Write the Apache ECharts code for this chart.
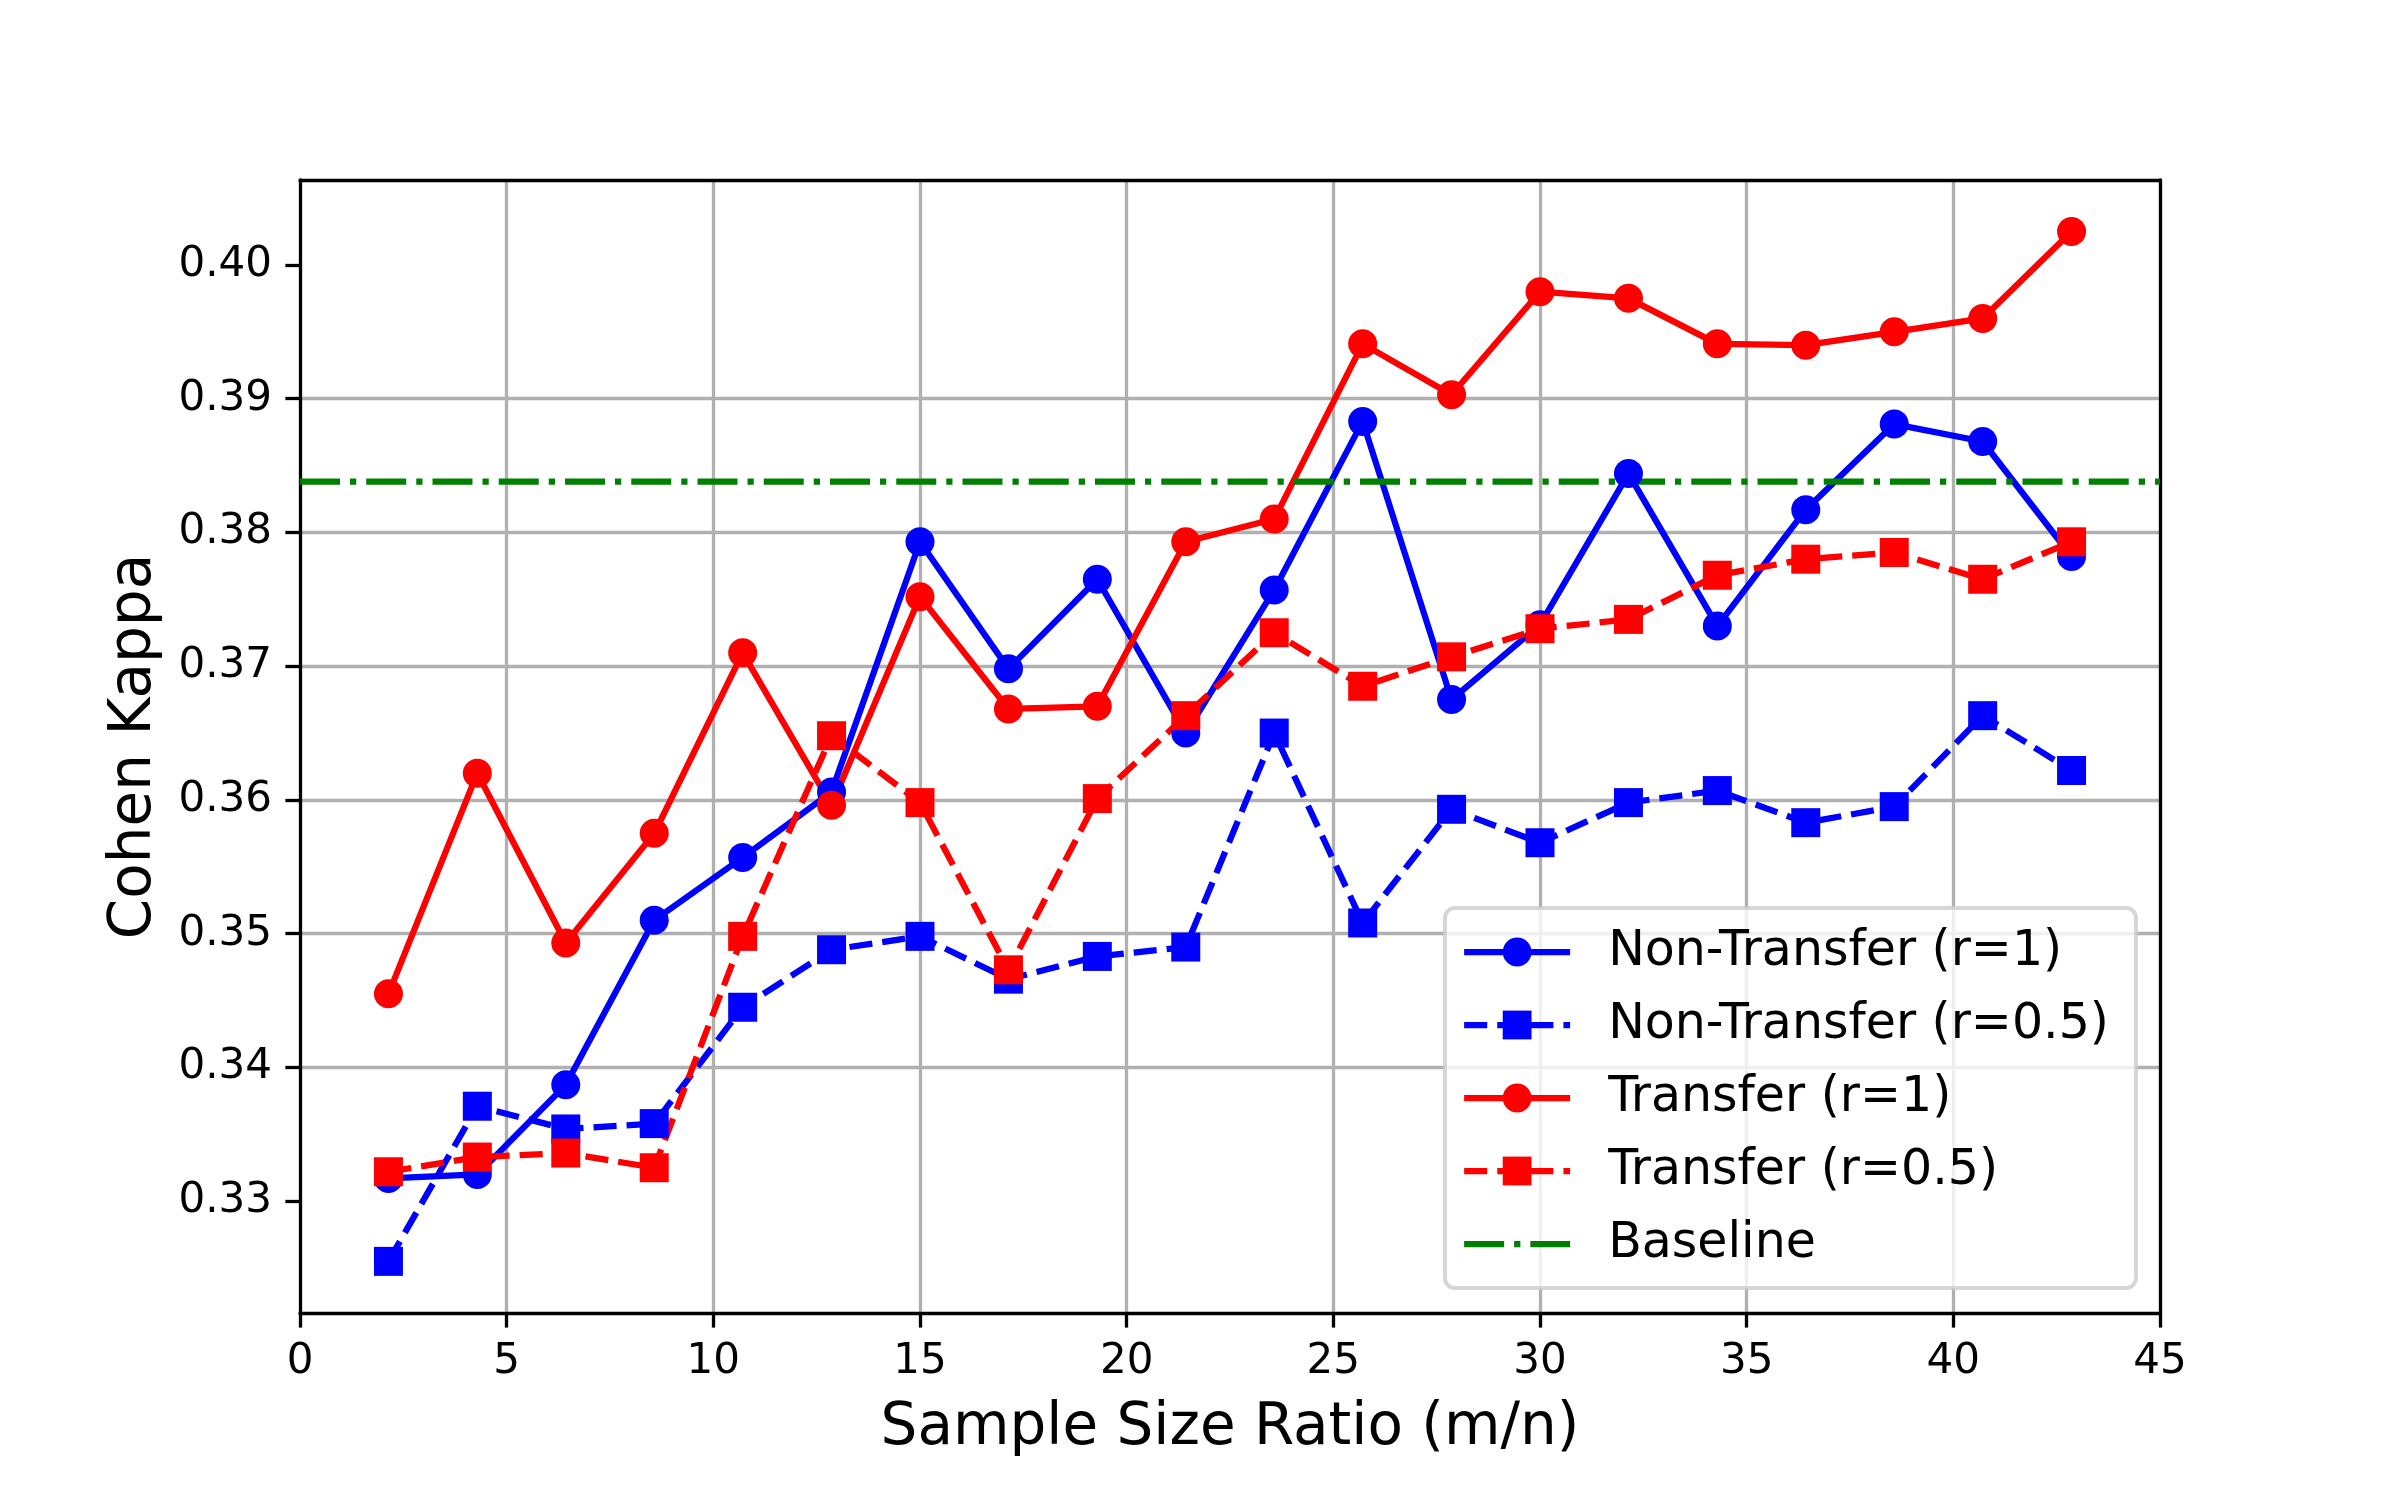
<!DOCTYPE html>
<html>
<head>
<meta charset="utf-8">
<script src="https://cdn.jsdelivr.net/npm/echarts@6/dist/echarts.min.js"></script>
<style>
html,body{margin:0;padding:0;background:#fff;}
#chart{width:2400px;height:1500px;}
</style>
</head>
<body>
<div id="chart"></div>
<script>
// ---- data ----
const xValues = [2.14, 4.29, 6.43, 8.57, 10.71, 12.86, 15.0, 17.14, 19.29, 21.43, 23.57, 25.71, 27.86, 30.0, 32.14, 34.29, 36.43, 38.57, 40.71, 42.86];
const nonTransfer1  = [0.3317, 0.3320, 0.3387, 0.3510, 0.3557, 0.3606, 0.3793, 0.3698, 0.3765, 0.3650, 0.3757, 0.3883, 0.3675, 0.3731, 0.3844, 0.3730, 0.3817, 0.3881, 0.3868, 0.3782];
const nonTransfer05 = [0.3255, 0.3371, 0.3354, 0.3358, 0.3445, 0.3488, 0.3498, 0.3466, 0.3483, 0.3490, 0.3650, 0.3508, 0.3593, 0.3568, 0.3598, 0.3607, 0.3583, 0.3595, 0.3663, 0.3622];
const transfer1     = [0.3455, 0.3620, 0.3493, 0.3575, 0.3710, 0.3596, 0.3752, 0.3668, 0.3670, 0.3793, 0.3810, 0.3941, 0.3903, 0.3980, 0.3975, 0.3941, 0.3940, 0.3950, 0.3960, 0.4025];
const transfer05    = [0.3322, 0.3333, 0.3336, 0.3325, 0.3498, 0.3648, 0.3598, 0.3473, 0.3601, 0.3663, 0.3725, 0.3685, 0.3707, 0.3728, 0.3735, 0.3768, 0.3780, 0.3785, 0.3765, 0.3793];
const baselineValue = 0.3838;
const seriesNames = ['Non-Transfer (r=1)', 'Non-Transfer (r=0.5)', 'Transfer (r=1)', 'Transfer (r=0.5)', 'Baseline'];
const xTicks = [0, 5, 10, 15, 20, 25, 30, 35, 40, 45];
const yTicks = [0.33, 0.34, 0.35, 0.36, 0.37, 0.38, 0.39, 0.40];
const yTickLabels = ['0.33', '0.34', '0.35', '0.36', '0.37', '0.38', '0.39', '0.40'];
const xRange = [0, 45];
const yRange = [0.32164, 0.40635];
const xTitle = 'Sample Size Ratio (m/n)';
const yTitle = 'Cohen Kappa';

// ---- chart ----
const FONT = 'DejaVu Sans';
const LW = 6.25;
const pair = (ys) => xValues.map((x, i) => [x, ys[i]]);

const chart = echarts.init(document.getElementById('chart'), null, {renderer: 'canvas'});

function lineSeries(name, ys, color, symbol, dash) {
  return {
    name: name,
    type: 'line',
    data: pair(ys),
    symbol: symbol,
    symbolSize: 29,
    showSymbol: true,
    itemStyle: {color: color, borderWidth: 0},
    lineStyle: {color: color, width: LW, type: dash, join: 'round'},
    emphasis: {disabled: true},
    z: 3
  };
}

const option = {
  animation: false,
  backgroundColor: '#ffffff',
  textStyle: {fontFamily: FONT},
  grid: {left: 300, top: 180, width: 1860, height: 1133, show: false},
  legend: {
    orient: 'vertical',
    left: 1445,
    top: 908,
    data: [
      {name: seriesNames[0]},
      {name: seriesNames[1]},
      {name: seriesNames[2]},
      {name: seriesNames[3]},
      {name: seriesNames[4], itemStyle: {color: 'rgba(0,0,0,0)', borderWidth: 0}}
    ],
    itemWidth: 106,
    itemHeight: 36,
    itemGap: 23,
    padding: [19, 27, 19, 16],
    backgroundColor: 'rgba(255,255,255,0.8)',
    borderColor: 'rgba(204,204,204,0.8)',
    borderWidth: 4,
    borderRadius: 10,
    selectedMode: false,
    lineStyle: {width: LW},
    textStyle: {fontFamily: FONT, fontSize: 49, color: '#000', padding: [0, 0, 0, 33], lineHeight: 50}
  },
  xAxis: [{
    type: 'value',
    min: xRange[0],
    max: xRange[1],
    interval: 5,
    name: xTitle,
    nameLocation: 'middle',
    nameGap: 87,
    nameTextStyle: {fontFamily: FONT, fontSize: 58, color: '#000'},
    axisLine: {show: true, onZero: false, lineStyle: {color: '#000', width: 3.3}},
    axisTick: {show: true, inside: false, length: 14.6, lineStyle: {color: '#000', width: 3.3}},
    axisLabel: {show: true, margin: 28, fontFamily: FONT, fontSize: 42, color: '#000',
      formatter: (v) => { const i = xTicks.indexOf(v); return i >= 0 ? String(xTicks[i]) : ''; }},
    splitLine: {show: true, showMinLine: false, showMaxLine: false, lineStyle: {color: '#b0b0b0', width: 3.3}}
  }, {
    type: 'value',
    position: 'top',
    min: xRange[0],
    max: xRange[1],
    interval: 5,
    axisLine: {show: true, onZero: false, lineStyle: {color: '#000', width: 3.3}},
    axisTick: {show: false},
    axisLabel: {show: false},
    splitLine: {show: false}
  }],
  yAxis: [{
    type: 'value',
    min: yRange[0],
    max: yRange[1],
    name: yTitle,
    nameLocation: 'middle',
    nameRotate: 90,
    nameGap: 136,
    nameTextStyle: {fontFamily: FONT, fontSize: 58, color: '#000'},
    axisLine: {show: true, onZero: false, lineStyle: {color: '#000', width: 3.3}},
    axisTick: {show: true, inside: false, length: 14.6, customValues: yTicks, lineStyle: {color: '#000', width: 3.3}},
    axisLabel: {show: true, margin: 28, fontFamily: FONT, fontSize: 42, color: '#000', customValues: yTicks,
      formatter: (v) => { let best = 0; yTicks.forEach((t, i) => { if (Math.abs(t - v) < Math.abs(yTicks[best] - v)) best = i; }); return yTickLabels[best]; }},
    splitLine: {show: true, showMinLine: false, showMaxLine: false, lineStyle: {color: '#b0b0b0', width: 3.3}}
  }, {
    type: 'value',
    position: 'right',
    min: yRange[0],
    max: yRange[1],
    axisLine: {show: true, onZero: false, lineStyle: {color: '#000', width: 3.3}},
    axisTick: {show: false},
    axisLabel: {show: false},
    splitLine: {show: false}
  }],
  series: [
    lineSeries(seriesNames[0], nonTransfer1, '#0000ff', 'circle', 'solid'),
    lineSeries(seriesNames[1], nonTransfer05, '#0000ff', 'rect', [23.1, 10]),
    lineSeries(seriesNames[2], transfer1, '#ff0000', 'circle', 'solid'),
    lineSeries(seriesNames[3], transfer05, '#ff0000', 'rect', [23.1, 10]),
    {
      name: seriesNames[4],
      type: 'line',
      data: [[xRange[0], baselineValue], [xRange[1], baselineValue]],
      symbol: 'none',
      showSymbol: false,
      itemStyle: {color: '#008000'},
      lineStyle: {color: '#008000', width: LW, type: [40, 10, 6.25, 10]},
      emphasis: {disabled: true},
      z: 3
    }
  ]
};
chart.setOption(option);
</script>
</body>
</html>
